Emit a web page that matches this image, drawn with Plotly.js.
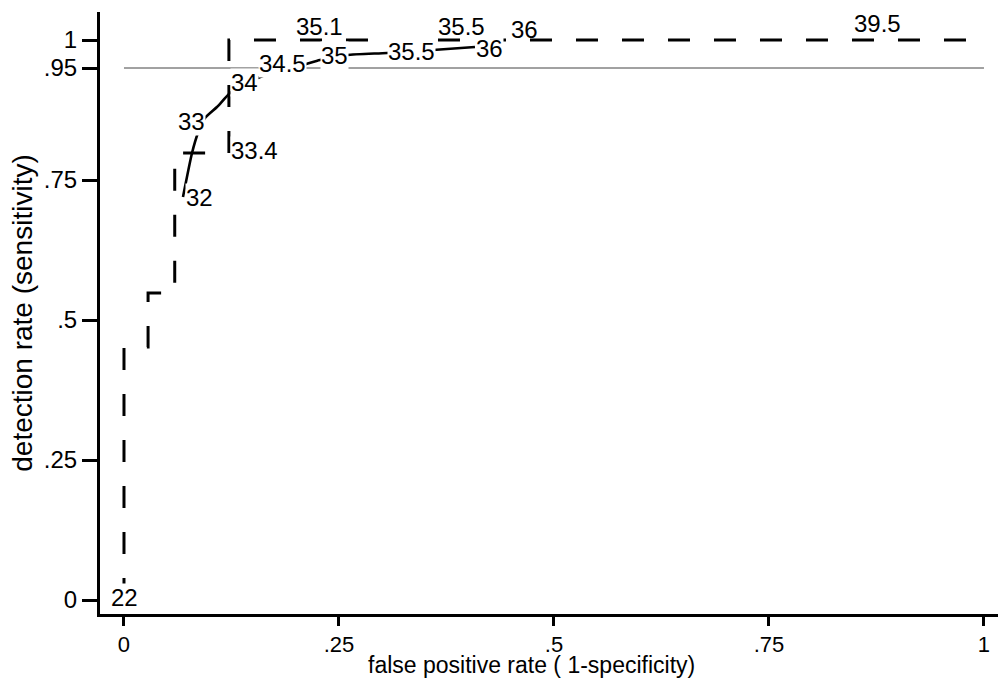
<!DOCTYPE html>
<html>
<head>
<meta charset="utf-8">
<script src="https://cdn.plot.ly/plotly-3.0.1.min.js"></script>
<style>html,body{margin:0;padding:0;background:#fff;}#chart{width:998px;height:679px;}</style>
</head>
<body>
<div id="chart"></div>
<script>
// Empirical ROC (dashed step line)
const stepX = [0, 0, 0.028, 0.028, 0.059, 0.059, 0.122, 0.122, 1];
const stepY = [0, 0.452, 0.452, 0.548, 0.548, 0.798, 0.798, 1, 1];
// Fitted ROC (solid curve)
const curveX = [0.0686, 0.0791, 0.0860, 0.0942, 0.1081, 0.1233, 0.1349, 0.1500, 0.1779, 0.2081, 0.2279, 0.2593, 0.3058, 0.3593, 0.4081];
const curveY = [0.7196, 0.7982, 0.8339, 0.8607, 0.8804, 0.9054, 0.9161, 0.9286, 0.9446, 0.9554, 0.9643, 0.9732, 0.9768, 0.9821, 0.9875];
// Cut-off labels on fitted curve
const curveLabelText = ['32', '33', '34', '34.5', '35', '35.5', '36'];
const curveLabelX = [0.0709, 0.0616, 0.1233, 0.1558, 0.2279, 0.3058, 0.4081];
const curveLabelY = [0.7196, 0.8536, 0.925, 0.9589, 0.9732, 0.9786, 0.9857];
// Cut-off labels on empirical step line
const stepLabelText = ['22', '33.4', '35.1', '35.5', '36', '39.5'];
const stepLabelX = [-0.0163, 0.1233, 0.1988, 0.364, 0.4488, 0.8477];
const stepLabelY = [0.0036, 0.8018, 1.025, 1.025, 1.0196, 1.0286];
// Reference line at 95% sensitivity
const refX = [0, 1];
const refY = [0.95, 0.95];
// Axis ticks and titles
const xTickVals = [0, 0.25, 0.5, 0.75, 1];
const xTickText = ['0', '.25', '.5', '.75', '1'];
const yTickVals = [0, 0.25, 0.5, 0.75, 0.95, 1];
const yTickText = ['0', '.25', '.5', '.75', '.95', '1'];
const xTitle = 'false positive rate ( 1-specificity)';
const yTitle = 'detection rate (sensitivity)';

const FONT = 'Liberation Sans, Arial, Helvetica, sans-serif';

const traces = [
  {x: refX, y: refY, mode: 'lines', line: {color: '#444', width: 1}, hoverinfo: 'skip'},
  {x: stepX, y: stepY, mode: 'lines', line: {color: '#000', width: 3, dash: '22px,24px'}, hoverinfo: 'skip'},
  {x: curveX, y: curveY, mode: 'lines', line: {color: '#000', width: 2.6, shape: 'spline', smoothing: 0.6}, hoverinfo: 'skip'}
];

const annotations = [];
curveLabelText.forEach((t, i) => annotations.push({
  x: curveLabelX[i], y: curveLabelY[i], xref: 'x', yref: 'y', text: t, showarrow: false,
  xanchor: 'left', yanchor: 'middle', bgcolor: '#fff', borderpad: 0,
  font: {family: FONT, size: 24, color: '#000'}
}));
stepLabelText.forEach((t, i) => annotations.push({
  x: stepLabelX[i], y: stepLabelY[i], xref: 'x', yref: 'y', text: t, showarrow: false,
  xanchor: 'left', yanchor: 'middle', bgcolor: stepLabelY[i] < 0.9 ? '#fff' : 'rgba(0,0,0,0)', borderpad: 0,
  font: {family: FONT, size: 24, color: '#000'}
}));
// x-axis title, placed like the reference (slightly left of the axis centre, at the very bottom)
annotations.push({
  x: 0.481, y: -0.108, xref: 'paper', yref: 'paper', text: xTitle, showarrow: false,
  xanchor: 'center', yanchor: 'bottom', borderpad: 0,
  font: {family: FONT, size: 23, color: '#000'}
});

const layout = {
  width: 998, height: 679,
  margin: {l: 100, r: 0, t: 12, b: 65},
  paper_bgcolor: '#fff', plot_bgcolor: '#fff',
  showlegend: false,
  font: {family: FONT, size: 24, color: '#000'},
  xaxis: {
    range: [-0.0279, 1.0163], showgrid: false, zeroline: false,
    showline: true, linecolor: '#000', linewidth: 3,
    ticks: 'outside', ticklen: 9, tickwidth: 3, tickcolor: '#000',
    tickvals: xTickVals, ticktext: xTickText,
    tickfont: {family: FONT, size: 22, color: '#000'},
    automargin: false, fixedrange: true
  },
  yaxis: {
    range: [-0.025, 1.05], showgrid: false, zeroline: false,
    showline: true, linecolor: '#000', linewidth: 3,
    ticks: 'outside', ticklen: 15, tickwidth: 3, tickcolor: '#000',
    tickvals: yTickVals, ticktext: yTickText,
    tickfont: {family: FONT, size: 24, color: '#000'},
    title: {text: yTitle, font: {family: FONT, size: 28, color: '#000'}, standoff: 4},
    automargin: false, fixedrange: true
  },
  annotations: annotations
};

Plotly.newPlot('chart', traces, layout, {displayModeBar: false, staticPlot: true});
</script>
</body>
</html>
